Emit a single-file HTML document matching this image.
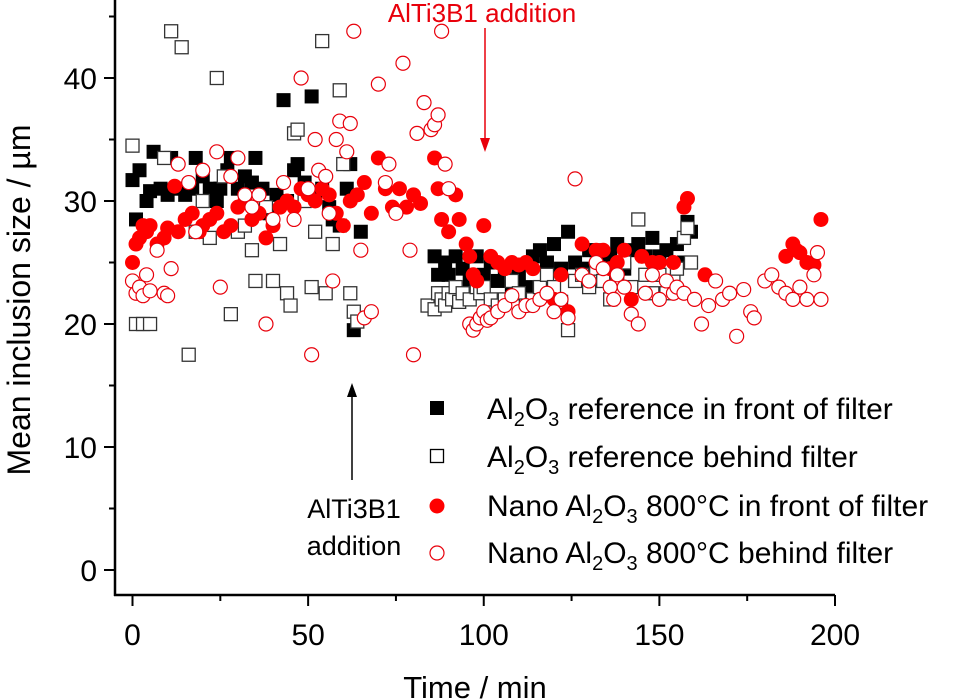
<!DOCTYPE html>
<html><head><meta charset="utf-8"><style>
html,body{margin:0;padding:0;background:#fff;}
svg{display:block;font-family:"Liberation Sans",Arial,sans-serif;}
</style></head><body>
<svg id="chart" width="968" height="700" viewBox="0 0 968 700">
<g id="axes"></g>
<g id="marks"></g>
<g id="annot">
<text x="482" y="22" fill="#e8000b" font-size="26" text-anchor="middle">AlTi3B1 addition</text>
<line x1="485" y1="28" x2="485" y2="138" stroke="#e8000b" stroke-width="1.5"/>
<polygon points="480,138 490,138 485,152" fill="#e8000b"/>
<line x1="352" y1="395" x2="352" y2="480" stroke="#000" stroke-width="1.5"/>
<polygon points="347,397 357,397 352,383" fill="#000"/>
<text x="354" y="518" font-size="27" text-anchor="middle">AlTi3B1</text>
<text x="354" y="555" font-size="27" text-anchor="middle">addition</text>
</g>
<g id="legend" font-size="30">
<g><rect x="430" y="401" width="14" height="14" fill="#000"/><text x="487" y="419">Al<tspan font-size="20" dy="7">2</tspan><tspan dy="-7">O</tspan><tspan font-size="20" dy="7">3</tspan><tspan dy="-7"> reference in front of filter</tspan></text></g>
<g><rect x="430.5" y="449.5" width="13" height="13" fill="#fff" stroke="#000" stroke-width="1.3"/><text x="487" y="467">Al<tspan font-size="20" dy="7">2</tspan><tspan dy="-7">O</tspan><tspan font-size="20" dy="7">3</tspan><tspan dy="-7"> reference behind filter</tspan></text></g>
<g><circle cx="437" cy="506" r="7.5" fill="#f00"/><text x="487" y="516">Nano Al<tspan font-size="20" dy="7">2</tspan><tspan dy="-7">O</tspan><tspan font-size="20" dy="7">3</tspan><tspan dy="-7"> 800°C in front of filter</tspan></text></g>
<g><circle cx="437" cy="553" r="7" fill="#fff" stroke="#e8000b" stroke-width="1.2"/><text x="487" y="563">Nano Al<tspan font-size="20" dy="7">2</tspan><tspan dy="-7">O</tspan><tspan font-size="20" dy="7">3</tspan><tspan dy="-7"> 800°C behind filter</tspan></text></g>
</g>
</svg>
<script>
const xTicks=[0,50,100,150,200];
const yTicks=[0,10,20,30,40];
const refFrontT=[0,1,2,4,5,6,8,10,11,13,15,17,18,20,22,24,25,27,28,30,32,34,35,37,39,41,43,44,46,47,49,51,52,54,56,57,59,61,62,63,65,86,87,88,89,90,92,94,96,98,100,102,104,106,108,110,112,114,116,118,120,122,124,126,128,130,132,134,136,138,140,142,144,146,148,150,152,155,157,158,159];
const refFrontV=[31.7,28.5,32.5,30,30.8,34,31,30.5,33.5,31,30.5,31,33.5,32,31,30,31,32.5,33.5,31,32,31.5,33.5,31,29,30.5,38.2,30,32.5,33,31.5,38.5,30.5,31,29.5,28.5,28,31,33,19.5,27.5,25.5,24,22.5,25,24,25.5,24.5,23.5,25.5,24,25,23.5,24.5,23,24,23,25.5,26,25,26.5,24.5,27.5,25,24.5,26,26,25,25.5,26.5,24.5,26,26.5,25.5,27,25.5,26,26.5,25,28.3,27.5];
const refBehindT=[0,1,3,5,9,11,14,16,18,20,22,24,26,28,30,32,34,35,38,40,42,44,45,46,47,49,51,52,54,55,57,59,60,62,63,64,84,86,87,88,89,90,91,92,93,94,96,98,99,100,102,104,106,108,110,112,114,116,118,120,122,124,126,128,130,132,134,136,138,140,142,144,146,148,150,152,154,155,157,158,159];
const refBehindV=[34.5,20,20,20,33.5,43.8,42.5,17.5,27.5,30,27,40,32,20.8,27.5,28,26,23.5,29.5,23.5,26.5,22.5,21.5,35.5,35.8,30,23,27.5,43,22.5,26.5,39,33,22.5,21,20.2,21.5,21.2,22.5,22,21.5,22.5,22,23,21.8,22.5,22,23,22.5,23,22,21.5,22,23.5,22.5,21.5,22,23,24,23,21.8,19.5,23.5,24,23,24.5,23.5,22,23.5,25,23,28.5,24,22.5,24,22.5,23.5,24.5,27,27.8,25];
const nanoFrontT=[0,1,2,3,4,5,7,9,10,12,13,15,17,19,20,22,24,26,28,30,32,34,36,38,40,42,44,46,48,50,52,54,56,58,60,62,64,66,68,70,72,74,76,78,80,82,86,87,88,90,92,93,95,96,97,98,99,100,102,104,106,108,110,112,114,120,122,124,128,130,132,134,136,138,140,142,145,148,150,154,157,158,163,186,188,189,190,192,194,196];
const nanoFrontV=[25,26.5,27,28,27.5,28,26.5,27,27.8,31.2,27.5,28.5,29,27.5,28,28.5,29,27.5,28,29.5,30,28.5,29,27,28,29.5,30,29.5,31,30.5,30,31,30.5,29,28,30,30.5,31.5,29,33.5,31,29.5,31,29.5,30.5,29.8,33.5,31,28.5,27.5,30.5,28.5,26.5,25.5,24,23.5,20.5,28,25.5,25,24.5,25,24.8,25,24.5,22,24,21,26.5,23.5,26,26,24.5,25,26,22,25.5,25,25,25,29.5,30.2,24,25.5,26.5,26,25.8,25,24.8,28.5];
const nanoBehindT=[0,1,2,3,4,5,7,9,10,11,13,16,18,20,24,25,28,30,32,34,36,38,40,43,46,48,50,51,52,53,55,56,57,58,59,61,62,63,65,66,68,70,72,73,75,77,79,80,81,83,85,86,87,88,89,90,96,97,98,99,100,101,102,104,106,108,110,112,114,116,118,120,122,124,126,128,130,132,134,136,137,138,140,142,144,146,148,150,152,154,155,157,160,162,164,166,168,170,172,174,176,177,180,182,184,186,188,190,192,194,195,196];
const nanoBehindV=[23.5,22.5,23,22.3,24,22.7,26,22.5,22.3,24.5,33,31.5,27.5,32.5,34,23,32,33.5,30.5,29.5,30.5,20,28.5,31.5,28.5,40,31,17.5,35,32.5,32,29,23.5,35,36.5,34,36.3,43.8,26,20.5,21,39.5,31.5,33,29,41.2,26,17.5,35.5,38,35.8,36.2,37,43.8,33,31,20,19.5,20,20.5,21,20.3,20.5,21,21.5,22.3,21,21.5,21.5,22,22.5,21,22,20.5,31.8,24,23.5,25,24.5,23,22,24,23,20.8,20,22.5,24,22,23.5,22.5,23,22.5,22,20,21.5,23.5,22,22.5,19,22.8,21,20.5,23.5,24,23,22.5,22,23,22,24,25.8,22];

const X0=132.5,XS=(835-132.5)/200,Y0=570,YS=12.3;
const xs=v=>X0+v*XS, ys=v=>Y0-v*YS;
const NS='http://www.w3.org/2000/svg';
function mk(tag,attrs,parent){const e=document.createElementNS(NS,tag);for(const k in attrs)e.setAttribute(k,attrs[k]);parent.appendChild(e);return e;}
const ax=document.getElementById('axes');
let e=mk('line',{x1:115,y1:0,x2:115,y2:596,stroke:'#000','stroke-width':2.5},ax);


e=mk('line',{x1:114,y1:595,x2:835,y2:595,stroke:'#000','stroke-width':2.5},ax);


xTicks.forEach((t,i)=>{
  mk('line',{x1:xs(t),y1:595,x2:xs(t),y2:606,stroke:'#000','stroke-width':2},ax);
  if(i<xTicks.length-1){mk('line',{x1:xs(t+25),y1:595,x2:xs(t+25),y2:601,stroke:'#000','stroke-width':2},ax);}
  const tx=mk('text',{x:xs(t),y:645,'font-size':30,'text-anchor':'middle'},ax);tx.textContent=t;
  
  
});
yTicks.forEach((t,i)=>{
  mk('line',{x1:104,y1:ys(t),x2:115,y2:ys(t),stroke:'#000','stroke-width':2},ax);
  mk('line',{x1:109,y1:ys(t+5),x2:115,y2:ys(t+5),stroke:'#000','stroke-width':2},ax);
  const tx=mk('text',{x:97,y:ys(t)+11,'font-size':30,'text-anchor':'end'},ax);tx.textContent=t;
  
  
});
let tt=mk('text',{x:475,y:698,'font-size':31,'text-anchor':'middle'},ax);tt.textContent='Time / min';


tt=mk('text',{x:0,y:0,'font-size':32,'text-anchor':'middle',transform:'translate(30,300) rotate(-90)'},ax);tt.textContent='Mean inclusion size / µm';



const mg=document.getElementById('marks');
refFrontT.forEach((t,i)=>{const r=mk('rect',{x:xs(t)-7,y:ys(refFrontV[i])-7,width:14,height:14,fill:'#000'},mg);

});
refBehindT.forEach((t,i)=>{const r=mk('rect',{x:xs(t)-6.5,y:ys(refBehindV[i])-6.5,width:13,height:13,fill:'#fff',stroke:'#333','stroke-width':1.3},mg);

});
nanoFrontT.forEach((t,i)=>{const c=mk('circle',{cx:xs(t),cy:ys(nanoFrontV[i]),r:7.5,fill:'#f00'},mg);

});
nanoBehindT.forEach((t,i)=>{const c=mk('circle',{cx:xs(t),cy:ys(nanoBehindV[i]),r:7,fill:'#fff',stroke:'#e8000b','stroke-width':1.2},mg);

});
</script>
</body></html>
